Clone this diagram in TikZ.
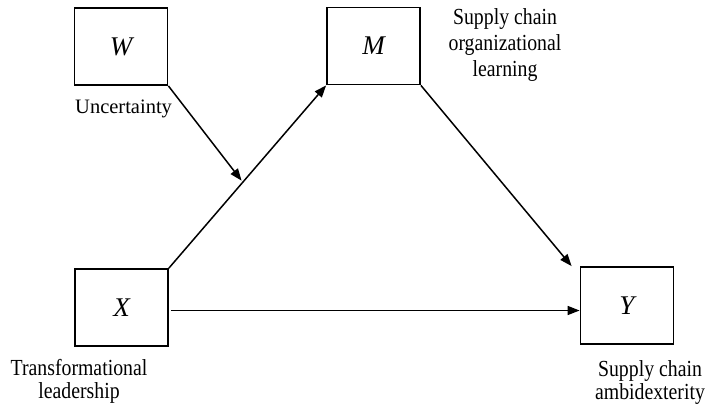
\documentclass[tikz,border=0pt]{standalone}
\usepackage{fontspec}
\setmainfont{Liberation Serif}
\newfontfamily\lblfont[FakeStretch=0.86]{Liberation Serif}
\usetikzlibrary{arrows.meta,calc}
\begin{document}
\begin{tikzpicture}[x=1pt,y=-1pt,
  var/.style={draw, line width=1.8pt, minimum width=93pt, minimum height=77pt,
    inner sep=0pt, font=\fontsize{27}{30}\selectfont\itshape},
  lbl/.style={font=\lblfont\fontsize{23}{23}\selectfont, align=center, inner sep=0pt},
  link/.style={line width=1.5pt, -{Triangle[length=12pt,width=9pt]}}]
\useasboundingbox (0,0) rectangle (707,408);

% variable boxes
\node[var] (W) at (121,46.5)  {W};
\node[var] (M) at (373.5,46)  {M};
\node[var] (X) at (121.5,307.5) {X};
\node[var] (Y) at (627,305.5) {Y};

% variable names
\node[font=\fontsize{20.5}{23}\selectfont, inner sep=0pt, anchor=base west] (wl) at (75,113) {Uncertainty};
\node[lbl, font=\lblfont\fontsize{23}{26}\selectfont] (ml) at (505,44.6) {Supply chain\\organizational\\learning};
\node[lbl] (xl) at (79,381.2) {Transformational\\leadership};
\node[lbl] (yl) at (650,382.2) {Supply chain\\ambidexterity};

% paths
\coordinate (mod) at ($(X.north east)!0.47!(M.south west)$);
\coordinate (yin) at ($(Y.north west)+(-8,0)$);
\draw[link] (X.north east) -- (M.south west);
\draw[link, shorten >=2pt] (W.south east) -- (mod);
\draw[link] (M.south east) -- (yin);
\draw[link] ([xshift=2pt,yshift=-3pt]X.east) -- ([yshift=-3pt]X.east -| Y.west);
\end{tikzpicture}
\end{document}
